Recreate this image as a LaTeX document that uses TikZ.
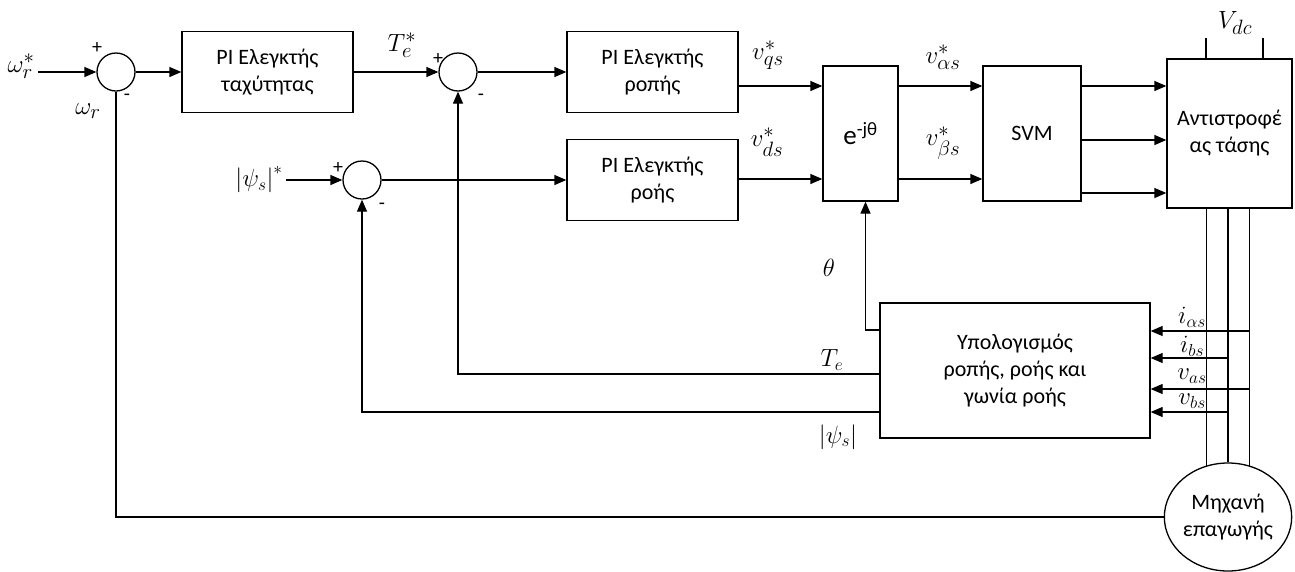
\documentclass[tikz,border=0pt]{standalone}
\usepackage{fontspec}
\setmainfont{Carlito}
\usepackage{amsmath}
\usetikzlibrary{arrows.meta, positioning, shapes.geometric}

\begin{document}
\begin{tikzpicture}[x=1pt, y=-1pt,
  every node/.style={font=\fontsize{22}{27}\selectfont},
  blk/.style={draw, line width=1.3pt, align=center, inner sep=0pt},
  summ/.style={draw, circle, line width=1.3pt, minimum size=38pt, inner sep=0pt},
  sig/.style={line width=1.3pt, -{Triangle[length=12pt,width=10pt]}},
  wire/.style={line width=1.3pt},
  big/.style={font=\fontsize{28}{30}\selectfont},
  mid/.style={font=\fontsize{23}{25}\selectfont},
  sml/.style={font=\fontsize{25}{27}\selectfont},
  sgn/.style={font=\fontsize{20}{22}\selectfont}]
  \useasboundingbox (0,0) rectangle (1295,571);
  % ---------- LEVELS ----------
  \coordinate (rowq) at (0,86);
  \coordinate (rowd) at (0,179);
  \coordinate (rowm) at (0,140);
  \coordinate (rowl) at (0,193);
  \coordinate (lvth) at (0,330);
  \coordinate (lvte) at (0,374);
  \coordinate (lvps) at (0,412);
  \coordinate (lvia) at (0,331);
  \coordinate (lvib) at (0,358);
  \coordinate (lvva) at (0,389);
  \coordinate (lvvb) at (0,412);
  \coordinate (vdcl) at (1206,38);
  \coordinate (vdcr) at (1263,38);
  % ---------- BLOCKS ----------
  \node[summ] (sumw) at (116,72) {};
  \node[summ] (sumt) at (458,72) {};
  \node[summ] (sumf) at (362,180) {};
  \node[blk, minimum width=171pt, minimum height=81pt] (piw) at (267.5,72) {PI Ελεγκτής\\ταχύτητας};
  \node[blk, minimum width=171pt, minimum height=81pt] (pit) at (652.5,72) {PI Ελεγκτής\\ροπής};
  \node[blk, minimum width=171pt, minimum height=81pt] (pif) at (652.5,180) {PI Ελεγκτής\\ροής};
  \node[blk, minimum width=75pt, minimum height=135pt, font=\fontsize{27}{30}\selectfont] (rot) at (860.5,133.5) {e\textsuperscript{-jθ}};
  \node[blk, minimum width=98pt, minimum height=135pt] (svm) at (1032,133.5) {SVM};
  \node[blk, minimum width=125pt, minimum height=149pt] (inv) at (1229.5,133.5) {Αντιστροφέ\\ας τάσης};
  \node[blk, minimum width=270pt, minimum height=135pt] (calc) at (1015,370.5) {Υπολογισμός\\ροπής, ροής και\\γωνία ροής};
  \node[blk, ellipse, minimum width=124pt, minimum height=108pt] (motor) at (1228,517) {Μηχανή\\επαγωγής};
  % ---------- INPUTS ----------
  \node[big] (wref) at (21,66) {$\omega_r^*$};
  \node[mid] (psref) at (259,180) {$\left|\psi_s\right|^*$};
  \draw[sig] (wref.east |- sumw) -- (sumw.west);
  \draw[sig] (psref.east |- sumf) -- (sumf.west);
  % ---------- FORWARD PATH ----------
  \draw[sig] (sumw.east) -- (piw.west);
  \draw[sig] (piw.east) -- (sumt.west);
  \draw[sig] (sumt.east) -- (pit.west);
  \draw[sig] (sumf.east) -- (pif.west);
  \draw[sig] (pit.east |- rowq) -- (rot.west |- rowq);
  \draw[sig] (pif.east |- rowd) -- (rot.west |- rowd);
  \draw[sig] (rot.east |- rowq) -- (svm.west |- rowq);
  \draw[sig] (rot.east |- rowd) -- (svm.west |- rowd);
  \foreach \r in {rowq,rowm,rowl}
    \draw[sig] (svm.east |- \r) -- (inv.west |- \r);
  \draw[wire] (vdcl) -- (vdcl |- inv.north);
  \draw[wire] (vdcr) -- (vdcr |- inv.north);
  % ---------- MOTOR ----------
  \path (motor.67) coordinate (phc) (motor.90) coordinate (phb);
  \foreach \a in {113,90,67}
    \draw[wire] (motor.\a) -- (motor.\a |- inv.south);
  \draw[sig] (phc |- lvia) -- (calc.east |- lvia);
  \draw[sig] (phb |- lvib) -- (calc.east |- lvib);
  \draw[sig] (phc |- lvva) -- (calc.east |- lvva);
  \draw[sig] (phb |- lvvb) -- (calc.east |- lvvb);
  % ---------- FEEDBACK ----------
  \draw[sig] (calc.west |- lvth) -| ([xshift=5pt]rot.south);
  \draw[sig] (calc.west |- lvte) -| (sumt.south);
  \draw[sig] (calc.west |- lvps) -| (sumf.south);
  \draw[wire] (motor.west) -| (sumw.south);
  % ---------- LABELS ----------
  \node[big] (lwr) at (88,111) {$\omega_r$};
  \node[big] (lte) at (402,45) {$T_e^*$};
  \node[big] (lvq) at (768,55) {$v_{qs}^*$};
  \node[big] (lvd) at (767,142) {$v_{ds}^*$};
  \node[big] (lva) at (943,57) {$v_{\alpha s}^*$};
  \node[big] (lvb) at (943,143) {$v_{\beta s}^*$};
  \node[big] (lvdc) at (1235,23) {$V_{dc}$};
  \node[big] (lth) at (829,268) {$\theta$};
  \node[mid] (lte2) at (832,360) {$T_e$};
  \node[mid] (lps) at (838,437) {$\left|\psi_s\right|$};
  \node[sml] (lia) at (1192,317) {$i_{\alpha s}$};
  \node[sml] (lib) at (1192,346) {$i_{bs}$};
  \node[sml] (lua) at (1192,376) {$v_{as}$};
  \node[sml] (lub) at (1192,401) {$v_{bs}$};
  \node[sgn] at (97,48) {+};
  \node[sgn] at (127,97) {-};
  \node[sgn] at (438,59) {+};
  \node[sgn] at (481,97) {-};
  \node[sgn] at (338,168) {+};
  \node[sgn] at (382,206) {-};
\end{tikzpicture}
\end{document}
